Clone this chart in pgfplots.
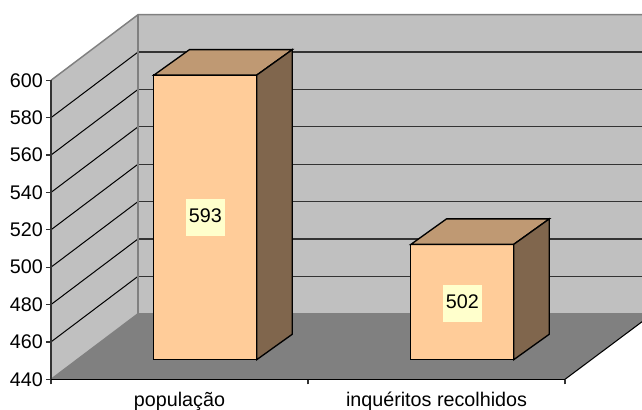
\documentclass[border=0pt]{standalone}
\usepackage{fontspec}
\setmainfont{Liberation Sans}
\usepackage{pgfplots}
\pgfplotsset{compat=1.18}
\definecolor{wallc}{HTML}{C0C0C0}
\definecolor{floorc}{HTML}{808080}
\definecolor{edgec}{HTML}{808080}
\definecolor{gridc}{HTML}{333333}
\definecolor{barfront}{HTML}{FFCC99}
\definecolor{bartop}{HTML}{BF9973}
\definecolor{barside}{HTML}{80664D}
\definecolor{labelbg}{HTML}{FFFFCC}
\begin{document}
\begin{tikzpicture}
\useasboundingbox (0,0) rectangle (481.5pt,307.5pt);
% frame axis: walls, floor, value scale
\begin{axis}[
  at={(38.25pt,23.025pt)}, anchor=south west,
  scale only axis, width=385.5pt, height=224.25pt,
  xmin=0, xmax=2, ymin=440, ymax=600,
  clip=false, axis on top,
  axis x line=bottom, axis y line=left,
  axis line style={-, line width=1pt},
  x axis line style={black},
  y axis line style={color=gridc},
  xtick={0,1,2}, xticklabels={},
  extra x ticks={0.5,1.5},
  extra x tick labels={população,inquéritos recolhidos},
  extra x tick style={major tick length=0pt, tick label style={yshift=-1pt}},
  ytick={440,460,...,600},
  tick align=outside, major tick length=3.75pt,
  every tick/.style={line width=0.9pt, color=gridc},
  tick label style={font=\fontsize{14.8}{16}\selectfont, text=black},
  /pgf/number format/assume math mode=true,
  xticklabel style={yshift=-5pt},
  yticklabel style={xshift=1.2pt},
]
\addplot[draw=none, fill=wallc] coordinates {(0,440)(0,600)(.3385,635.1)(.3385,475.1)} --cycle;
\addplot[draw=none, fill=wallc] coordinates {(.3385,475.1)(.3385,635.1)(2.2996,635.1)(2.2996,475.1)} --cycle;
\addplot[draw=none, fill=floorc] coordinates {(0,440)(2,440)(2.2996,470.8)(2.2996,475.1)(.3385,475.1)} --cycle;
% side-wall grid
\addplot[black, line width=0.75pt] coordinates {(0,460)(.3385,495.1)};
\addplot[black, line width=0.75pt] coordinates {(0,480)(.3385,515.1)};
\addplot[black, line width=0.75pt] coordinates {(0,500)(.3385,535.1)};
\addplot[black, line width=0.75pt] coordinates {(0,520)(.3385,555.1)};
\addplot[black, line width=0.75pt] coordinates {(0,540)(.3385,575.1)};
\addplot[black, line width=0.75pt] coordinates {(0,560)(.3385,595.1)};
\addplot[black, line width=0.75pt] coordinates {(0,580)(.3385,615.1)};
% back-wall grid
\addplot[gridc, line width=1pt] coordinates {(.3385,495.1)(2.2996,495.1)};
\addplot[gridc, line width=1pt] coordinates {(.3385,515.1)(2.2996,515.1)};
\addplot[gridc, line width=1pt] coordinates {(.3385,535.1)(2.2996,535.1)};
\addplot[gridc, line width=1pt] coordinates {(.3385,555.1)(2.2996,555.1)};
\addplot[gridc, line width=1pt] coordinates {(.3385,575.1)(2.2996,575.1)};
\addplot[gridc, line width=1pt] coordinates {(.3385,595.1)(2.2996,595.1)};
\addplot[gridc, line width=1pt] coordinates {(.3385,615.1)(2.2996,615.1)};
% wall and floor edges
\addplot[edgec, line width=1.1pt] coordinates {(0,600)(.3385,635.1)(2.2996,635.1)};
\addplot[edgec, line width=1.1pt] coordinates {(.3385,635.1)(.3385,475.1)(2.2996,475.1)};
\addplot[edgec, line width=1pt] coordinates {(0,440)(.3385,475.1)};
\addplot[black, line width=0.8pt] coordinates {(2,440)(2.2996,470.8)};
\end{axis}
% bars in their own plane, with real values
\begin{axis}[
  at={(57.6pt,37.725pt)}, anchor=south west,
  scale only axis, width=385.5pt, height=223.2pt,
  xmin=-0.5, xmax=1.5, ymin=440, ymax=600,
  clip=false, hide axis,
]
\addplot[ybar, bar width=77.25pt, fill=barfront, draw=black, line width=1pt] coordinates {(0,593)(1,502)};
% bar 1 depth
\addplot[fill=bartop, draw=black, line width=1pt] coordinates {(-.2,593)(.2,593)(.3385,606.7)(-.0615,606.7)} --cycle;
\addplot[fill=barside, draw=black, line width=1pt] coordinates {(.2,440)(.3385,453.7)(.3385,606.7)(.2,593)} --cycle;
% bar 2 depth
\addplot[fill=bartop, draw=black, line width=1pt] coordinates {(.8,502)(1.2,502)(1.3385,515.7)(.9385,515.7)} --cycle;
\addplot[fill=barside, draw=black, line width=1pt] coordinates {(1.2,440)(1.3385,453.7)(1.3385,515.7)(1.2,502)} --cycle;
% value labels
\addplot[draw=none, nodes near coords, point meta=explicit symbolic,
  nodes near coords align=center,
  every node near coord/.style={fill=labelbg, inner sep=0pt, text=black,
    minimum width=29.25pt, minimum height=27.75pt, text height=10.5pt, text depth=3pt,
    font=\fontsize{14.8}{16}\selectfont, anchor=center}]
  coordinates {(0,516.6)[593] (1,470.2)[502]};
\end{axis}
\end{tikzpicture}
\end{document}
